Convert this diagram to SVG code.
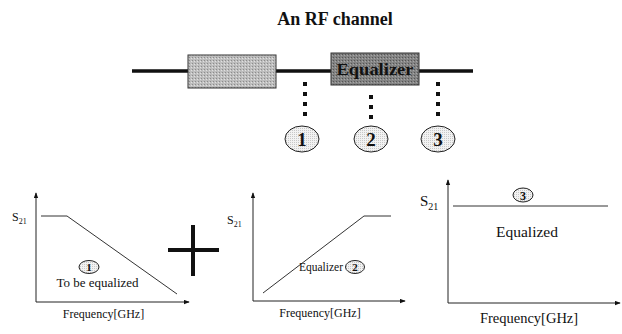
<svg xmlns="http://www.w3.org/2000/svg" width="622" height="334" viewBox="0 0 622 334">
<style>
.serif{font-family:"Liberation Serif","DejaVu Serif",serif;fill:#111}
.b{font-weight:bold}
.wire{stroke:#111;stroke-width:3.5;fill:none}
.dot{stroke:#111;stroke-width:4;stroke-dasharray:4 6;fill:none}
.axis{stroke:#222;stroke-width:1;fill:none}
.curve{stroke:#333;stroke-width:1;fill:none}
.tag{fill:url(#stip);stroke:#222;stroke-width:1}
</style>
<defs>
<marker id="ah" viewBox="0 0 8 6" refX="7" refY="3" markerWidth="6" markerHeight="5" orient="auto" markerUnits="userSpaceOnUse">
<path d="M0,0 L8,3 L0,6 z" fill="#111"/>
</marker>
<pattern id="stip" width="2" height="2" patternUnits="userSpaceOnUse">
<rect width="2" height="2" fill="#f2f2f2"/>
<rect width="1" height="1" fill="#c8c8c8"/>
</pattern>
<pattern id="light" width="3" height="3" patternUnits="userSpaceOnUse">
<rect width="3" height="3" fill="#bdbdbd"/>
<rect width="1" height="1" fill="#8c8c8c"/>
<rect x="2" y="1" width="1" height="1" fill="#e0e0e0"/>
</pattern>
<pattern id="dark" width="3" height="3" patternUnits="userSpaceOnUse">
<rect width="3" height="3" fill="#838383"/>
<rect width="1" height="1" fill="#555"/>
<rect x="2" y="1" width="1" height="1" fill="#a6a6a6"/>
</pattern>
</defs>
<rect width="622" height="334" fill="#fff"/>
<text class="serif b" x="335" y="25" font-size="18" text-anchor="middle">An RF channel</text>
<g id="connectors">
<path class="wire" d="M132,71 H188 M276,71 H331 M419,71 H473"/>
<path class="dot" d="M305,82 V120"/>
<path class="dot" d="M371,95 V122"/>
<path class="dot" d="M438,82 V120"/>
</g>
<g id="block1">
<rect x="188" y="55" width="88" height="33" fill="url(#light)" stroke="#333" stroke-width="1"/>
</g>
<g id="equalizer">
<rect x="331" y="53" width="88" height="32" fill="url(#dark)" stroke="#333" stroke-width="1"/>
<text class="serif b" x="375" y="75" font-size="17" text-anchor="middle" fill="#222" textLength="77" lengthAdjust="spacingAndGlyphs">Equalizer</text>
</g>
<g id="probe1">
<ellipse class="tag" cx="302" cy="139" rx="17" ry="13"/>
<text class="serif b" x="302" y="146" font-size="19" text-anchor="middle">1</text>
</g>
<g id="probe2">
<ellipse class="tag" cx="371" cy="139" rx="17" ry="13"/>
<text class="serif b" x="371" y="146" font-size="19" text-anchor="middle">2</text>
</g>
<g id="probe3">
<ellipse class="tag" cx="438" cy="139" rx="17" ry="13"/>
<text class="serif b" x="438" y="146" font-size="19" text-anchor="middle">3</text>
</g>
<g id="plot1">
<path class="axis" d="M36,302 V193" marker-end="url(#ah)"/>
<path class="axis" d="M36,302 H189" marker-end="url(#ah)"/>
<path class="curve" d="M41,216 H67 L177,294"/>
<text class="serif" x="12" y="221" font-size="12">S<tspan font-size="8" dy="3">21</tspan></text>
<ellipse class="tag" cx="89" cy="267" rx="10" ry="6.5"/>
<text class="serif b" x="89" y="271" font-size="11" text-anchor="middle">1</text>
<text class="serif" x="97.5" y="287" font-size="13" text-anchor="middle">To be equalized</text>
<text class="serif" x="103.5" y="318" font-size="12" text-anchor="middle">Frequency[GHz]</text>
</g>
<g id="plus">
<path d="M168,250 H219 M193,225 V276" stroke="#111" stroke-width="4" fill="none"/>
</g>
<g id="plot2">
<path class="axis" d="M253,301 V193" marker-end="url(#ah)"/>
<path class="axis" d="M253,301 H405" marker-end="url(#ah)"/>
<path class="curve" d="M263,293 L364,216 H391"/>
<text class="serif" x="227" y="224" font-size="12">S<tspan font-size="8" dy="3">21</tspan></text>
<ellipse class="tag" cx="355" cy="267" rx="9.5" ry="6.5"/>
<text class="serif b" x="355" y="271" font-size="11" text-anchor="middle">2</text>
<text class="serif" x="343" y="271" font-size="11.5" text-anchor="end">Equalizer</text>
<text class="serif" x="320" y="317" font-size="12" text-anchor="middle">Frequency[GHz]</text>
</g>
<g id="plot3">
<path class="axis" d="M448,303 V180" marker-end="url(#ah)"/>
<path class="axis" d="M448,303 H620" marker-end="url(#ah)"/>
<path class="curve" d="M453,206 H608"/>
<text class="serif" x="420" y="206" font-size="15">S<tspan font-size="10" dy="4">21</tspan></text>
<ellipse class="tag" cx="523" cy="195" rx="10" ry="7"/>
<text class="serif b" x="523" y="199.5" font-size="12" text-anchor="middle">3</text>
<text class="serif" x="527" y="237" font-size="15.5" text-anchor="middle">Equalized</text>
<text class="serif" x="529" y="323" font-size="14.5" text-anchor="middle">Frequency[GHz]</text>
</g>
</svg>
